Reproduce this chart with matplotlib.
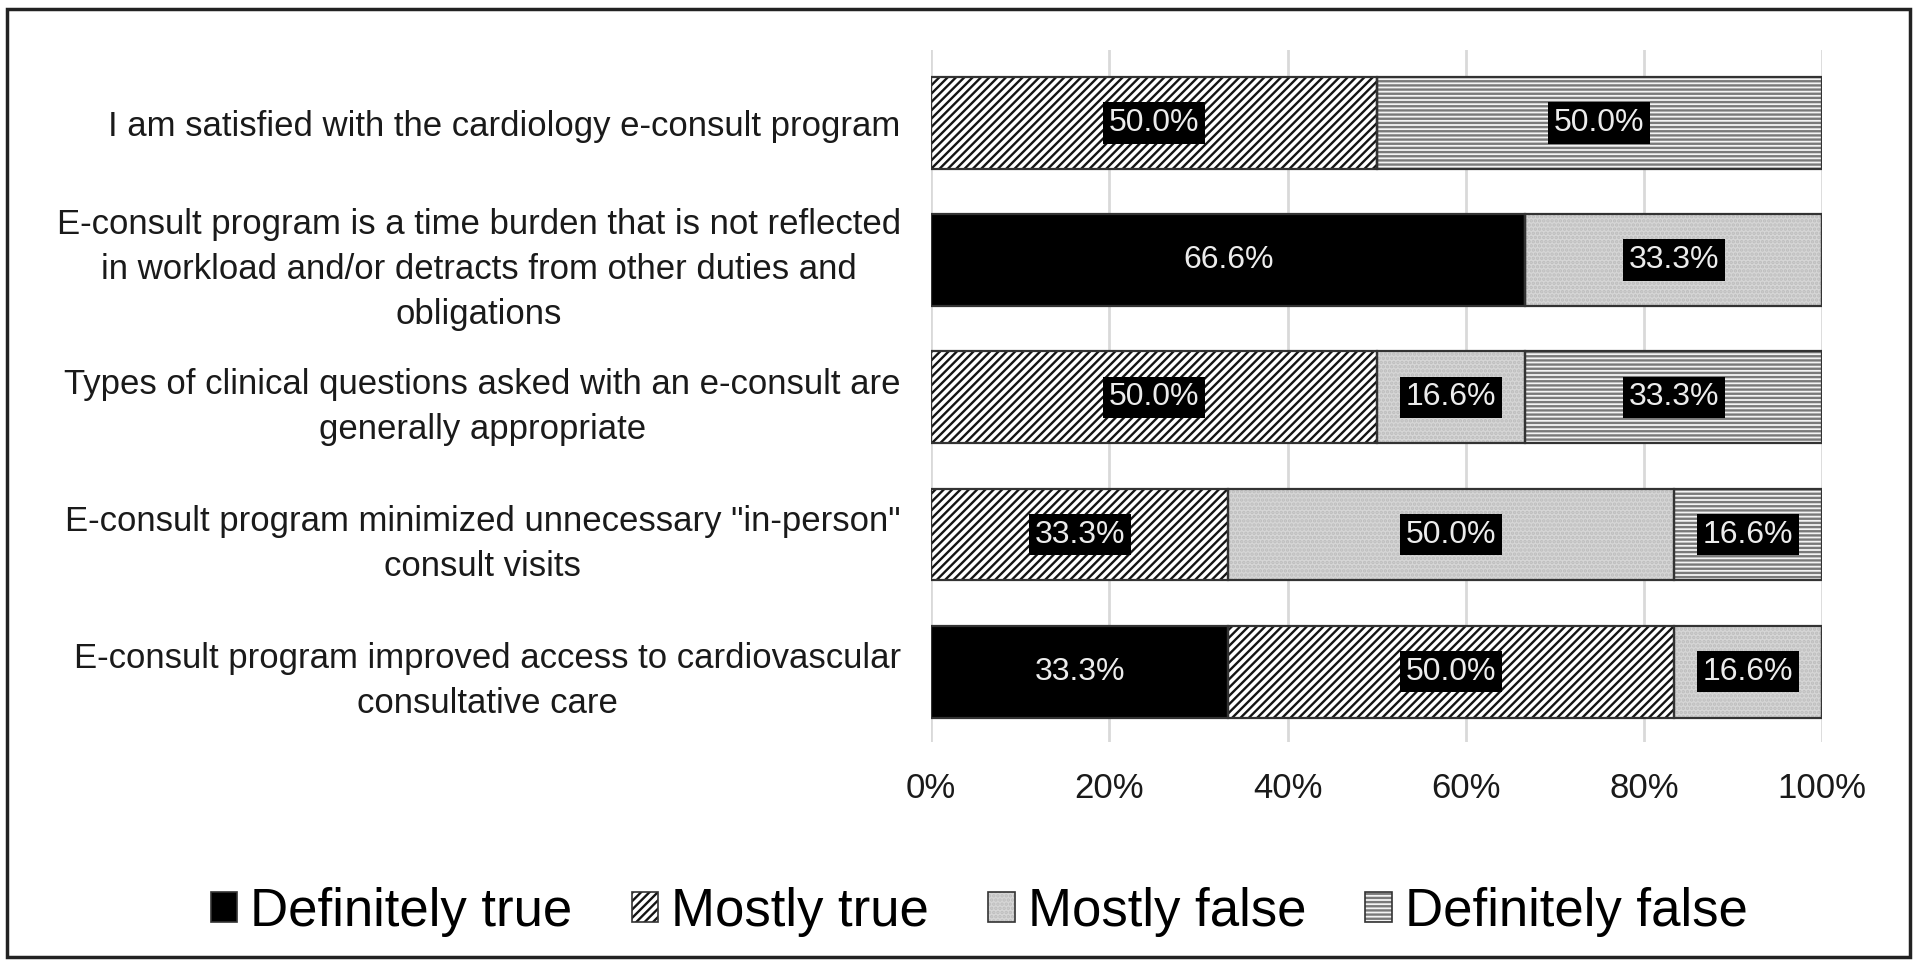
import numpy as np
import matplotlib
matplotlib.use('Agg')
import matplotlib.pyplot as plt
from matplotlib.patches import Patch, Rectangle

plt.rcParams['font.family'] = ['Liberation Sans', 'DejaVu Sans']
plt.rcParams['hatch.linewidth'] = 1.7

categories = [
    'I am satisfied with the cardiology e-consult program',
    'E-consult program is a time burden that is not reflected\nin workload and/or detracts from other duties and\nobligations',
    'Types of clinical questions asked with an e-consult are\ngenerally appropriate',
    'E-consult program minimized unnecessary "in-person"\nconsult visits',
    'E-consult program improved access to cardiovascular\nconsultative care',
]
series_names = ['Definitely true', 'Mostly true', 'Mostly false', 'Definitely false']
definitely_true = [0, 66.6, 0, 0, 33.3]
mostly_true = [50.0, 0, 50.0, 33.3, 50.0]
mostly_false = [0, 33.3, 16.6, 50.0, 16.6]
definitely_false = [50.0, 0, 33.3, 16.6, 0]
xticks = [0, 20, 40, 60, 80, 100]

# fill, hatch colour, hatch
styles = [
    ('black', 'black', None),
    ('white', '#141414', '////'),
    ('#d6d6d6', '#bdbdbd', '....'),
    ('#f4f4f4', '#7a7a7a', '----'),
]

data = np.array([definitely_true, mostly_true, mostly_false, definitely_false])
shares = data / data.sum(axis=0) * 100

fig = plt.figure(figsize=(19.2, 9.67), dpi=100)
ax = fig.add_axes([0.485, 0.233, 0.464, 0.715])

y = np.arange(len(categories))
left = np.zeros(len(categories))
bar_h = 0.67
for i, (name, (fc, hc, hatch)) in enumerate(zip(series_names, styles)):
    w = shares[i]
    ax.barh(y, w, left=left, height=bar_h, color=fc, edgecolor=hc,
            linewidth=0, hatch=hatch, zorder=2)
    ax.barh(y, w, left=left, height=bar_h, color='none',
            edgecolor='#333333', linewidth=1.6, zorder=3)
    for j in range(len(categories)):
        if data[i, j] > 0:
            ax.text(left[j] + w[j] / 2, y[j], '%.1f%%' % data[i, j],
                    ha='center', va='center', fontsize=23, color='#ececec',
                    zorder=4,
                    bbox=dict(boxstyle='square,pad=0.18', fc='black', ec='none'))
    left += w

ax.set_xlim(0, 100)
ax.set_ylim(4.51, -0.53)
ax.set_xticks(xticks)
ax.set_xticklabels(['%d%%' % t for t in xticks], fontsize=25, color='#1a1a1a')
ax.set_yticks(y)
ax.set_yticklabels(categories, fontsize=25, color='#1a1a1a',
                   multialignment='center', linespacing=1.45)
ax.tick_params(axis='both', length=0)
ax.tick_params(axis='x', pad=22)
ax.tick_params(axis='y', pad=22)
ax.grid(axis='x', color='#d9d9d9', linewidth=2, zorder=0)
ax.set_axisbelow(True)
for s in ax.spines.values():
    s.set_visible(False)

handles = []
for fc, hc, hatch in styles:
    handles.append((Patch(facecolor=fc, edgecolor=hc, hatch=hatch, linewidth=0),
                    Patch(facecolor='none', edgecolor='#333333', linewidth=1.2)))
fig.legend(handles, series_names, loc='center', bbox_to_anchor=(0.51, 0.057),
           ncol=4, frameon=False, fontsize=38, handlelength=0.5,
           handleheight=0.5, handletextpad=0.25, columnspacing=1.12)

fig.patches.append(Rectangle((0.0036, 0.0103), 0.991, 0.980,
                             transform=fig.transFigure, fill=False,
                             edgecolor='#222222', linewidth=2.5))

fig.savefig('out.png', dpi=100)
